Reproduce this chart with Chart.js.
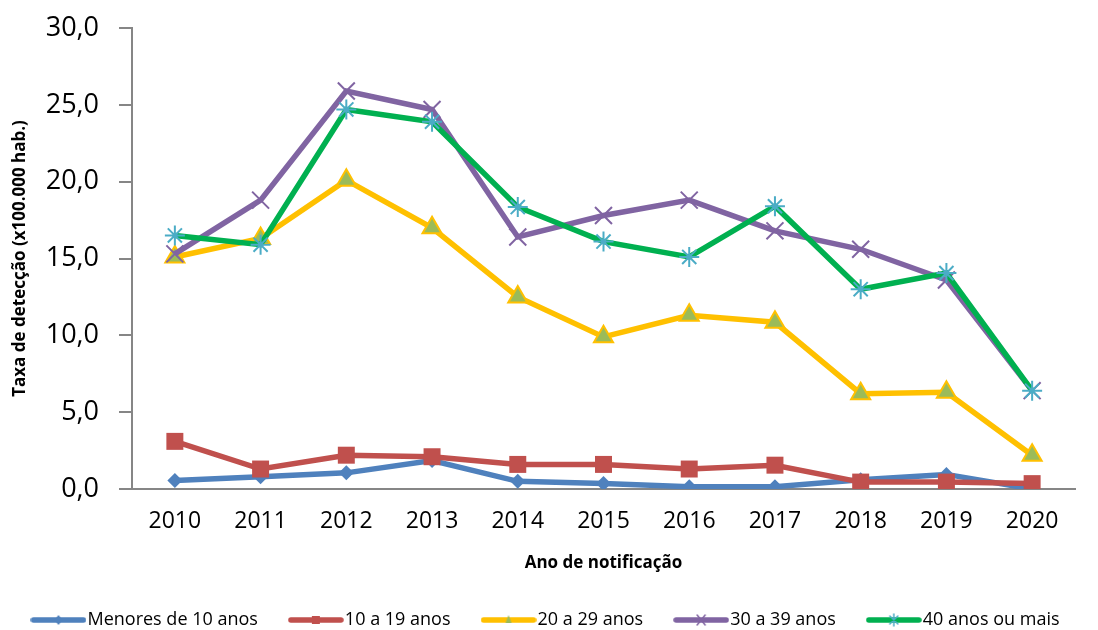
<!DOCTYPE html>
<html lang="pt">
<head>
  <meta charset="UTF-8">
  <title>Taxa de detecção por faixa etária</title>
  <script src="https://cdn.jsdelivr.net/npm/chart.js"></script>
  <style>
    body {
      margin: 0;
      padding: 0;
      background-color: #fff;
    }

    .chart-container {
      width: 1098px;
      height: 630px;
    }
  </style>
</head>
<body>
  <div class="chart-container">
    <canvas id="taxaChart"></canvas>
  </div>

  <script>
    // Dados
    const anos = ['2010', '2011', '2012', '2013', '2014', '2015', '2016', '2017', '2018', '2019', '2020'];
    const menores10 = [0.55, 0.8, 1.05, 1.85, 0.5, 0.35, 0.15, 0.15, 0.6, 0.95, 0.0];
    const de10a19 = [3.1, 1.3, 2.2, 2.1, 1.6, 1.6, 1.3, 1.55, 0.45, 0.45, 0.35];
    const de20a29 = [15.1, 16.3, 20.1, 17.0, 12.5, 9.9, 11.3, 10.85, 6.2, 6.3, 2.2];
    const de30a39 = [15.3, 18.8, 25.9, 24.7, 16.4, 17.8, 18.8, 16.8, 15.6, 13.6, 6.4];
    const de40mais = [16.5, 15.9, 24.7, 23.9, 18.35, 16.1, 15.1, 18.4, 13.0, 14.05, 6.4];
    const nomesSeries = ['Menores de 10 anos', '10 a 19 anos', '20 a 29 anos', '30 a 39 anos', '40 anos ou mais'];
    const yTicks = [0, 5, 10, 15, 20, 25, 30];

    const fonte = "'Open Sans', sans-serif";

    // Ícone da legenda: linha com marcador no meio
    function legendIcon(lineColor, drawMarker) {
      const c = document.createElement('canvas');
      c.width = 56;
      c.height = 14;
      const g = c.getContext('2d');
      g.strokeStyle = lineColor;
      g.lineWidth = 5.5;
      g.lineCap = 'round';
      g.beginPath();
      g.moveTo(3, 7);
      g.lineTo(53, 7);
      g.stroke();
      drawMarker(g, 28, 7);
      return c;
    }

    const icons = [
      legendIcon('#4F81BD', (g, x, y) => {
        g.fillStyle = '#4F81BD';
        g.beginPath();
        g.moveTo(x, y - 5); g.lineTo(x + 4, y); g.lineTo(x, y + 5); g.lineTo(x - 4, y);
        g.closePath(); g.fill();
      }),
      legendIcon('#C0504D', (g, x, y) => {
        g.fillStyle = '#C0504D';
        g.fillRect(x - 4, y - 4, 8, 8);
      }),
      legendIcon('#FFC000', (g, x, y) => {
        g.fillStyle = '#9BBB59';
        g.beginPath();
        g.moveTo(x, y - 5); g.lineTo(x + 3, y + 3); g.lineTo(x - 3, y + 3);
        g.closePath(); g.fill();
      }),
      legendIcon('#8064A2', (g, x, y) => {
        g.strokeStyle = '#8064A2';
        g.lineWidth = 1.5;
        g.beginPath();
        g.moveTo(x - 4, y - 5); g.lineTo(x + 4, y + 5);
        g.moveTo(x + 4, y - 5); g.lineTo(x - 4, y + 5);
        g.stroke();
      }),
      legendIcon('#00B050', (g, x, y) => {
        g.strokeStyle = '#4BACC6';
        g.lineWidth = 1.5;
        g.beginPath();
        g.moveTo(x, y - 6); g.lineTo(x, y + 6);
        g.moveTo(x - 4, y - 4); g.lineTo(x + 4, y + 4);
        g.moveTo(x + 4, y - 4); g.lineTo(x - 4, y + 4);
        g.stroke();
      })
    ];

    const ctx = document.getElementById('taxaChart').getContext('2d');
    const taxaChart = new Chart(ctx, {
      type: 'line',
      data: {
        labels: anos,
        datasets: [
          {
            label: nomesSeries[0],
            data: menores10,
            borderColor: '#4F81BD',
            backgroundColor: '#4F81BD',
            borderWidth: 5.5,
            pointStyle: 'rectRot',
            pointRadius: 7.5,
            pointBorderWidth: 0,
            order: 5
          },
          {
            label: nomesSeries[1],
            data: de10a19,
            borderColor: '#C0504D',
            backgroundColor: '#C0504D',
            borderWidth: 5.5,
            pointStyle: 'rect',
            pointRadius: 12,
            pointBorderWidth: 0,
            order: 4
          },
          {
            label: nomesSeries[2],
            data: de20a29,
            borderColor: '#FFC000',
            backgroundColor: '#9BBB59',
            borderWidth: 5.5,
            pointStyle: 'triangle',
            pointRadius: 11,
            pointBorderColor: '#FFC000',
            pointBorderWidth: 2,
            order: 3
          },
          {
            label: nomesSeries[3],
            data: de30a39,
            borderColor: '#8064A2',
            backgroundColor: '#8064A2',
            borderWidth: 5.5,
            pointStyle: 'crossRot',
            pointRadius: 12,
            pointBorderColor: '#8064A2',
            pointBorderWidth: 2,
            order: 2
          },
          {
            label: nomesSeries[4],
            data: de40mais,
            borderColor: '#00B050',
            backgroundColor: '#4BACC6',
            borderWidth: 5.5,
            pointStyle: 'star',
            pointRadius: 10,
            pointBorderColor: '#4BACC6',
            pointBorderWidth: 2,
            order: 1
          }
        ]
      },
      options: {
        responsive: true,
        maintainAspectRatio: false,
        animation: false,
        layout: {
          padding: { left: 0, right: 0, top: 28, bottom: -9 }
        },
        plugins: {
          tooltip: { enabled: false },
          legend: {
            position: 'bottom',
            labels: {
              usePointStyle: true,
              pointStyleWidth: 40,
              padding: 38,
              color: '#000',
              font: { family: fonte, size: 18 },
              generateLabels: (chart) => chart.data.datasets.map((ds, i) => ({
                text: ds.label,
                pointStyle: icons[i],
                fillStyle: ds.borderColor,
                strokeStyle: ds.borderColor,
                lineWidth: 0,
                hidden: false,
                datasetIndex: i
              }))
            }
          }
        },
        scales: {
          x: {
            offset: true,
            grid: { display: false },
            border: { color: '#868686', width: 2 },
            ticks: {
              color: '#000',
              padding: 11,
              font: { family: fonte, size: 23 }
            },
            title: {
              display: true,
              text: 'Ano de notificação',
              color: '#000',
              padding: { top: 6, bottom: 0 },
              font: { family: fonte, size: 17, weight: 'bold' }
            }
          },
          y: {
            min: 0,
            max: 30,
            afterBuildTicks: (axis) => {
              axis.ticks = yTicks.map(v => ({ value: v }));
            },
            afterFit: (axis) => {
              axis.width = 132;
              // a margem de cima fica por conta do layout
              axis.paddingTop = 0;
              axis.paddingBottom = 0;
            },
            grid: {
              drawOnChartArea: false,
              drawTicks: true,
              tickLength: 13,
              color: '#868686',
              lineWidth: 2
            },
            border: { color: '#868686', width: 2 },
            ticks: {
              color: '#000',
              padding: 20,
              font: { family: fonte, size: 27 },
              callback: (v) => Number(v).toFixed(1).replace('.', ',')
            },
            title: {
              display: true,
              text: 'Taxa de detecção (x100.000 hab.)',
              color: '#000',
              padding: { top: 10, bottom: 0 },
              font: { family: fonte, size: 17, weight: 'bold' }
            }
          },
          // eixo vazio à direita, só para reservar a margem
          y2: {
            position: 'right',
            display: true,
            grid: { display: false },
            border: { display: false },
            ticks: { display: false },
            afterFit: (axis) => {
              axis.width = 23;
            }
          }
        }
      }
    });
  </script>
</body>
</html>
